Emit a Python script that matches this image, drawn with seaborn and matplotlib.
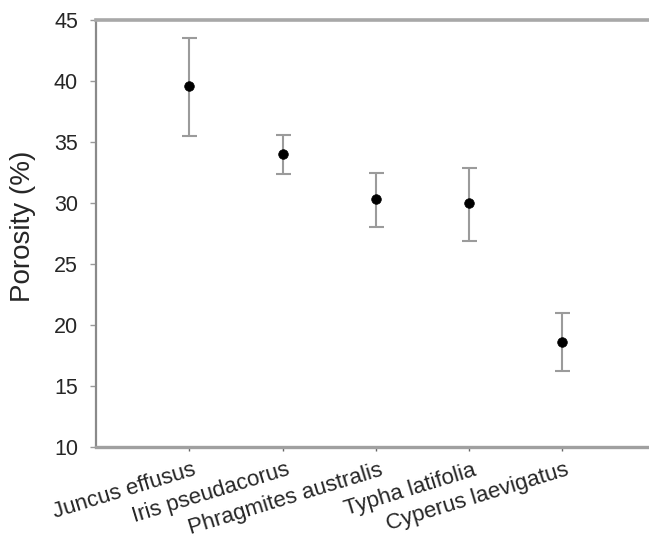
import numpy as np
import pandas as pd
import matplotlib
matplotlib.use("Agg")
import matplotlib.pyplot as plt
from matplotlib.transforms import ScaledTranslation
import seaborn as sns

species = ["Juncus effusus", "Iris pseudacorus", "Phragmites australis",
           "Typha latifolia", "Cyperus laevigatus"]
porosity = [39.6, 34.0, 30.3, 30.0, 18.6]
upper = [43.55, 35.6, 32.5, 32.9, 21.0]
lower = [35.5, 32.35, 28.05, 26.9, 16.2]
yticks = [10, 15, 20, 25, 30, 35, 40, 45]

sns.set_style("white")
plt.rcParams["font.family"] = ["Liberation Sans", "DejaVu Sans"]

df = pd.DataFrame({"species": species, "porosity": porosity})

W, H = 649, 543
fig = plt.figure(figsize=(W / 100, H / 100), dpi=100)
ax = fig.add_axes([96 / W, 1 - 447 / H, (W - 96) / W, (447 - 20) / H])

pos = np.arange(len(species))
yerr = np.array([np.array(porosity) - np.array(lower),
                 np.array(upper) - np.array(porosity)])
ax.errorbar(pos, porosity, yerr=yerr, fmt="none", ecolor="#9b9b9b",
            elinewidth=1.5, capsize=5.4, capthick=1.5, zorder=2)
sns.scatterplot(data=df, x="species", y="porosity", ax=ax, color="black",
                s=48, edgecolor="black", linewidth=0.5, zorder=3, legend=False)

ax.set_xlim(-1.0, 4.93)
ax.set_ylim(10, 45)
ax.set_yticks(yticks)
ax.set_xticks(pos)
ax.set_xticklabels(species, rotation=17, ha="right", rotation_mode="anchor",
                   fontsize=16)
ax.tick_params(axis="y", labelsize=15.5, length=4.5, width=1, color="#999999",
               left=True, pad=8.5)
ax.tick_params(axis="x", length=3, width=1, color="#666666", bottom=True, pad=6)
shift = ScaledTranslation(3 / 100, 0, fig.dpi_scale_trans)
for lab in ax.get_xticklabels():
    lab.set_transform(lab.get_transform() + shift)

ax.set_xlabel("")
ax.set_ylabel("Porosity (%)", fontsize=20)
ax.yaxis.set_label_coords(-0.1085, 0.5176)

for side in ["left", "top", "bottom"]:
    ax.spines[side].set_visible(True)
ax.spines["left"].set_color("#8a8a8a")
ax.spines["top"].set_color("#a8a8a8")
ax.spines["bottom"].set_color("#a0a0a0")
ax.spines["left"].set_linewidth(1.6)
ax.spines["top"].set_linewidth(2.6)
ax.spines["bottom"].set_linewidth(2.4)
ax.spines["right"].set_visible(False)

fig.savefig("out.png", dpi=100)
